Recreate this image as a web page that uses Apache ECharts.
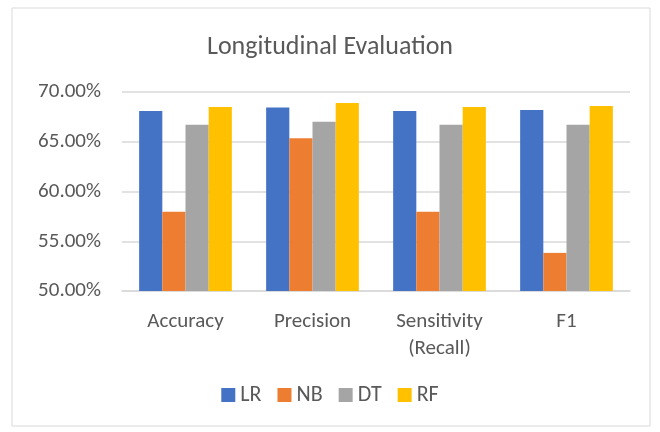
<!DOCTYPE html>
<html>
<head>
<meta charset="utf-8">
<script src="https://cdn.jsdelivr.net/npm/echarts@6/dist/echarts.min.js"></script>
<style>
  html, body { margin: 0; padding: 0; background: #fff; }
  #chart { width: 660px; height: 432px; }
</style>
</head>
<body>
<div id="chart"></div>
<script>
  // data (percent)
  const categories = ['Accuracy', 'Precision', 'Sensitivity\n(Recall)', 'F1']
  const seriesNames = ['LR', 'NB', 'DT', 'RF']
  const lrValues = [68.1, 68.45, 68.1, 68.18]
  const nbValues = [57.96, 65.36, 57.96, 53.83]
  const dtValues = [66.7, 67.0, 66.7, 66.7]
  const rfValues = [68.5, 68.9, 68.5, 68.6]
  const colors = ['#4472C4', '#ED7D31', '#A5A5A5', '#FFC000']

  const chart = echarts.init(document.getElementById('chart'))
  const font = 'Calibri, Carlito, "Open Sans", "Noto Sans", sans-serif'

  const option = {
    animation: false,
    textStyle: { fontFamily: font },
    graphic: [{
      type: 'rect',
      shape: { x: 12, y: 8, width: 638, height: 418 },
      style: { fill: 'none', stroke: '#d9d9d9', lineWidth: 1 }
    }],
    title: {
      text: 'Longitudinal Evaluation',
      left: 'center',
      top: 29,
      textStyle: { fontSize: 26, fontWeight: 'normal', color: '#595959', fontFamily: font }
    },
    legend: {
      data: seriesNames,
      bottom: 21,
      left: 'center',
      itemWidth: 14,
      itemHeight: 14,
      itemGap: 16,
      icon: 'rect',
      textStyle: { fontSize: 22, color: '#595959', fontFamily: font }
    },
    grid: { left: 122, right: 30, top: 92, bottom: 141 },
    xAxis: {
      type: 'category',
      data: categories,
      axisLine: { lineStyle: { color: '#d9d9d9', width: 1.5 } },
      axisTick: { show: false },
      axisLabel: { fontSize: 21, color: '#595959', margin: 17, lineHeight: 27, fontFamily: font }
    },
    yAxis: {
      type: 'value',
      min: 50,
      max: 70,
      interval: 5,
      axisLine: { show: false },
      axisTick: { show: false },
      splitLine: { lineStyle: { color: '#d9d9d9', width: 1.5 } },
      axisLabel: {
        fontSize: 21, color: '#595959', margin: 21, fontFamily: font,
        formatter: v => v.toFixed(2) + '%'
      }
    },
    series: [lrValues, nbValues, dtValues, rfValues].map((vals, i) => ({
      name: seriesNames[i],
      type: 'bar',
      data: vals,
      barGap: '0%',
      barCategoryGap: '27%',
      itemStyle: { color: colors[i] }
    }))
  }
  chart.setOption(option)
</script>
</body>
</html>
